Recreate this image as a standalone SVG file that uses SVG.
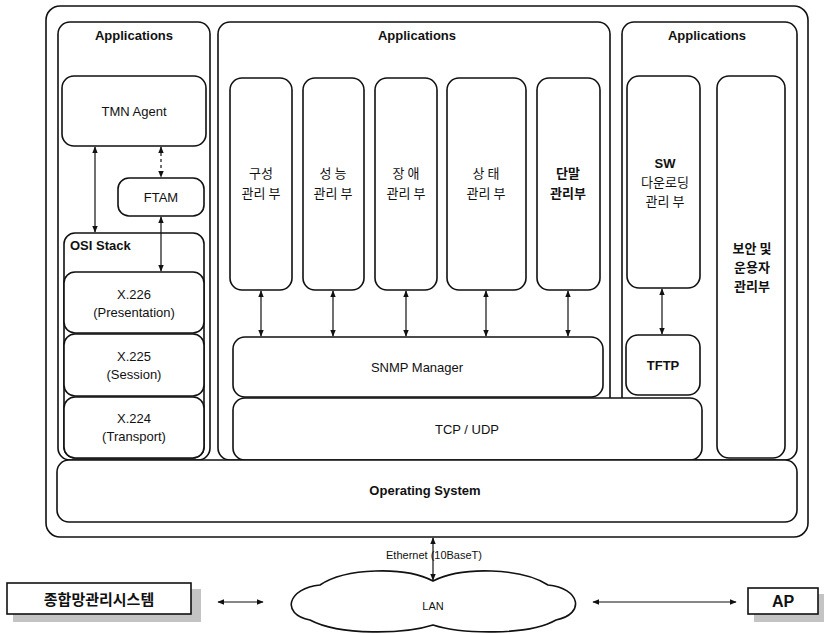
<svg xmlns="http://www.w3.org/2000/svg" width="826" height="634" viewBox="0 0 826 634">
<defs>
<style>
.box{fill:#fff;stroke:#111;stroke-width:1.6}
.thin{fill:none;stroke:#111;stroke-width:1.2}
.t{font-family:"Liberation Sans","Noto Sans CJK KR",sans-serif;font-size:13px;fill:#111;text-anchor:middle}
.k{font-family:"Noto Sans CJK KR","Liberation Sans",sans-serif;font-size:13px;fill:#111;text-anchor:middle}
.b{font-weight:bold}
.ln{stroke:#111;stroke-width:1.2;fill:none}
.shadow{fill:#c4c4c4}
</style>
<marker id="ah" viewBox="0 0 10 10" refX="9" refY="5" markerWidth="7" markerHeight="7" orient="auto-start-reverse" markerUnits="userSpaceOnUse">
<path d="M0,1 L10,5 L0,9 Z" fill="#111"/>
</marker>
</defs>
<rect width="826" height="634" fill="#fff"/>

<g id="outer"><rect class="box" x="46" y="6" width="762" height="531" rx="14"/></g>

<g id="apps-left">
<rect class="box" x="58" y="22" width="152" height="438" rx="12"/>
<text class="t b" x="134" y="40">Applications</text>
</g>
<g id="apps-mid">
<rect class="box" x="218" y="22" width="392" height="438" rx="12"/>
<text class="t b" x="417" y="40">Applications</text>
</g>
<g id="apps-right">
<rect class="box" x="622" y="22" width="175" height="438" rx="12"/>
<text class="t b" x="707" y="40">Applications</text>
</g>

<g id="tmn"><rect class="box" x="62" y="76" width="144" height="70" rx="12"/><text class="t" x="134" y="116">TMN Agent</text></g>
<g id="ftam"><rect class="box" x="118" y="178" width="86" height="38" rx="11"/><text class="t" x="161" y="202">FTAM</text></g>

<g id="osi">
<rect class="box" x="64" y="233" width="140" height="225" rx="11"/>
<text class="t b" x="70" y="250" style="text-anchor:start">OSI Stack</text>
</g>
<g id="x226"><rect class="box" x="64" y="272" width="140" height="61" rx="11"/><text class="t" x="134" y="299">X.226</text><text class="t" x="134" y="317">(Presentation)</text></g>
<g id="x225"><rect class="box" x="64" y="334" width="140" height="62" rx="11"/><text class="t" x="134" y="361">X.225</text><text class="t" x="134" y="379">(Session)</text></g>
<g id="x224"><rect class="box" x="64" y="397" width="140" height="61" rx="11"/><text class="t" x="134" y="423">X.224</text><text class="t" x="134" y="441">(Transport)</text></g>

<g id="m1"><rect class="box" x="230" y="78" width="62" height="212" rx="12"/><text class="k" x="261" y="178">구성</text><text class="k" x="261" y="198">관리 부</text></g>
<g id="m2"><rect class="box" x="303" y="78" width="61" height="212" rx="12"/><text class="k" x="333" y="178">성 능</text><text class="k" x="333" y="198">관리 부</text></g>
<g id="m3"><rect class="box" x="375" y="78" width="62" height="212" rx="12"/><text class="k" x="406" y="178">장 애</text><text class="k" x="406" y="198">관리 부</text></g>
<g id="m4"><rect class="box" x="447" y="78" width="79" height="212" rx="12"/><text class="k" x="486" y="178">상 태</text><text class="k" x="486" y="198">관리 부</text></g>
<g id="m5"><rect class="box" x="537" y="78" width="63" height="212" rx="12"/><text class="k b" x="568" y="178">단말</text><text class="k b" x="568" y="198">관리부</text></g>

<g id="sw"><rect class="box" x="627" y="76" width="73" height="212" rx="12"/><text class="t b" x="665" y="168">SW</text><text class="k" x="665" y="187">다운로딩</text><text class="k" x="665" y="206">관리 부</text></g>
<g id="sec"><rect class="box" x="717" y="76" width="68" height="382" rx="12"/><text class="k b" x="752" y="253">보안 및</text><text class="k b" x="752" y="272">운용자</text><text class="k b" x="752" y="291">관리부</text></g>

<g id="snmp"><rect class="box" x="233" y="337" width="370" height="60" rx="12"/><text class="t" x="417" y="372">SNMP Manager</text></g>
<g id="tftp"><rect class="box" x="626" y="335" width="74" height="60" rx="12"/><text class="t b" x="663" y="370">TFTP</text></g>
<g id="tcp"><rect class="box" x="233" y="398" width="469" height="62" rx="12"/><text class="t" x="467" y="434">TCP / UDP</text></g>
<g id="os"><rect class="box" x="57" y="460" width="740" height="62" rx="12"/><text class="t b" x="425" y="495">Operating System</text></g>

<g id="lan">
<path class="box" d="M433,581 C405,566 345,568 320,585 C288,588 280,614 310,620 C340,636 405,634 433,625 C461,634 528,636 556,620 C586,614 580,588 548,585 C522,568 462,566 433,581 Z"/>
<text class="t" x="433" y="610" style="font-size:11px">LAN</text>
</g>
<g id="nms">
<rect class="shadow" x="13" y="589" width="188" height="33"/>
<rect class="box" x="7" y="583" width="184" height="31"/>
<text class="k b" x="99" y="605" style="font-size:15px">종합망관리시스템</text>
</g>
<g id="ap">
<rect class="shadow" x="754" y="594" width="70" height="28"/>
<rect class="box" x="748" y="588" width="70" height="26"/>
<text class="t b" x="783" y="607" style="font-size:16px">AP</text>
</g>

<g id="connectors">
<line class="ln" x1="95" y1="147" x2="95" y2="232" marker-start="url(#ah)" marker-end="url(#ah)"/>
<line class="ln" x1="161" y1="147" x2="161" y2="177" stroke-dasharray="3,3" marker-start="url(#ah)" marker-end="url(#ah)"/>
<line class="ln" x1="161" y1="217" x2="161" y2="271" marker-start="url(#ah)" marker-end="url(#ah)"/>
<line class="ln" x1="261" y1="291" x2="261" y2="336" marker-start="url(#ah)" marker-end="url(#ah)"/>
<line class="ln" x1="333" y1="291" x2="333" y2="336" marker-start="url(#ah)" marker-end="url(#ah)"/>
<line class="ln" x1="406" y1="291" x2="406" y2="336" marker-start="url(#ah)" marker-end="url(#ah)"/>
<line class="ln" x1="486" y1="291" x2="486" y2="336" marker-start="url(#ah)" marker-end="url(#ah)"/>
<line class="ln" x1="568" y1="291" x2="568" y2="336" marker-start="url(#ah)" marker-end="url(#ah)"/>
<line class="ln" x1="662" y1="289" x2="662" y2="334" marker-start="url(#ah)" marker-end="url(#ah)"/>
<line class="ln" x1="433" y1="538" x2="433" y2="580" marker-start="url(#ah)" marker-end="url(#ah)"/>
<line class="ln" x1="218" y1="602" x2="263" y2="602" marker-start="url(#ah)" marker-end="url(#ah)"/>
<line class="ln" x1="593" y1="602" x2="736" y2="602" marker-start="url(#ah)" marker-end="url(#ah)"/>
<text class="t" x="434" y="559" style="font-size:11px">Ethernet (10BaseT)</text>
</g>
</svg>
